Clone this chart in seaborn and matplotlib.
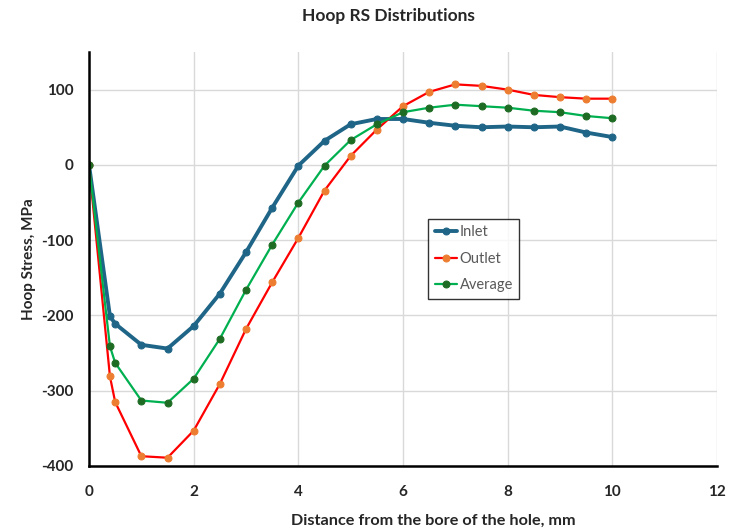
import numpy as np
import pandas as pd
import matplotlib
matplotlib.use("Agg")
import matplotlib.pyplot as plt
import seaborn as sns

x = [0, 0.4, 0.5, 1.0, 1.5, 2.0, 2.5, 3.0, 3.5, 4.0, 4.5, 5.0, 5.5, 6.0, 6.5, 7.0, 7.5, 8.0, 8.5, 9.0, 9.5, 10.0]
inlet = [0, -201, -211, -239, -244, -214, -171, -116, -57, -1, 32, 54, 61, 61, 56, 52, 50, 51, 50, 51, 43, 37]
outlet = [0, -281, -315, -387, -389, -353, -291, -218, -156, -97, -34, 12, 47, 78, 97, 107, 105, 100, 93, 90, 88, 88]
average = [0, -241, -263, -313, -316, -284, -231, -166, -106, -50, -1, 33, 54, 70, 76, 80, 78, 76, 72, 70, 65, 62]

series_names = ["Inlet", "Outlet", "Average"]
x_ticks = [0, 2, 4, 6, 8, 10, 12]
y_ticks = [-400, -300, -200, -100, 0, 100]

df = pd.DataFrame({
    "x": x * 3,
    "y": inlet + outlet + average,
    "series": ["Inlet"] * len(x) + ["Outlet"] * len(x) + ["Average"] * len(x),
})

sns.set_theme(style="white")
plt.rcParams["font.family"] = ["Lato", "DejaVu Sans"]
plt.rcParams["axes.unicode_minus"] = False

fig = plt.figure(figsize=(7.43, 5.29), dpi=100)
ax = fig.add_axes([0.1198, 0.1191, 0.8452, 0.7826])

styles = {
    "Inlet": dict(color="#1F6587", mfc="#1F6587", mec="#1F6587", lw=2.8),
    "Outlet": dict(color="#FF0000", mfc="#ED7D31", mec="#ED7D31", lw=1.6),
    "Average": dict(color="#00B050", mfc="#1E6B24", mec="#1E6B24", lw=1.6),
}
for name in series_names:
    s = styles[name]
    sns.lineplot(data=df[df.series == name], x="x", y="y", ax=ax, color=s["color"],
                 linewidth=s["lw"], marker="o", markersize=5, markerfacecolor=s["mfc"],
                 markeredgecolor=s["mec"], label=name, sort=False)

ax.set_xlim(0, 12)
ax.set_ylim(-400, 150)
ax.set_xticks(x_ticks)
ax.set_yticks(y_ticks)
ax.grid(True, color="#D9D9D9", linewidth=1.0)
ax.set_axisbelow(True)
for sp in ["top", "right"]:
    ax.spines[sp].set_visible(False)
ax.spines["left"].set_color("black")
ax.spines["left"].set_linewidth(1.8)
ax.spines["bottom"].set_color("black")
ax.spines["bottom"].set_linewidth(1.8)
ax.tick_params(axis="x", length=0, pad=14, labelsize=11)
ax.tick_params(axis="y", length=0, pad=11, labelsize=11)
for lab in ax.get_xticklabels() + ax.get_yticklabels():
    lab.set_fontweight("bold")
ax.set_xlabel("Distance from the bore of the hole, mm", fontsize=11.7, fontweight="bold", labelpad=10)
ax.xaxis.set_label_coords(0.548, -0.115)
ax.set_ylabel("Hoop Stress, MPa", fontsize=11, fontweight="bold", labelpad=4)
fig.suptitle("Hoop RS Distributions", x=0.523, y=0.985, fontsize=12.5, fontweight="bold")

leg = ax.legend(loc="upper left", bbox_to_anchor=(0.54, 0.597), frameon=True, fancybox=False,
                edgecolor="black", fontsize=10.5, handlelength=1.5, handletextpad=0.2,
                borderpad=0.45, labelspacing=0.85, borderaxespad=0)
leg.get_frame().set_linewidth(1.0)
for t in leg.get_texts():
    t.set_color("#595959")

fig.savefig("out.png", dpi=100)
